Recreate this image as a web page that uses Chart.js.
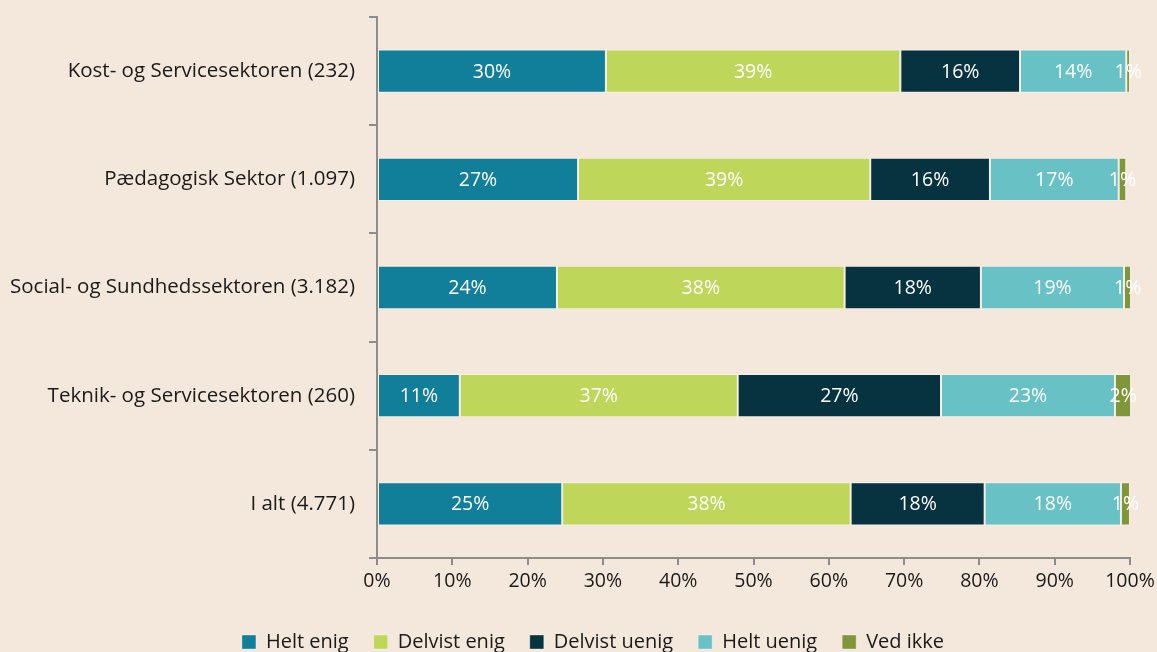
<!DOCTYPE html>
<html>
<head>
<meta charset="utf-8">
<script src="https://cdn.jsdelivr.net/npm/chart.js@4"></script>
<style>
  html, body { margin: 0; padding: 0; background: #F4E8DC; overflow: hidden; }
  #wrap { width: 1157px; height: 662px; position: relative; }
</style>
</head>
<body>
<div id="wrap"><canvas id="chart"></canvas></div>
<script>
// Categories (top to bottom)
const categories = [
    'Kost- og Servicesektoren (232)',
    'Pædagogisk Sektor (1.097)',
    'Social- og Sundhedssektoren (3.182)',
    'Teknik- og Servicesektoren (260)',
    'I alt (4.771)'
];

// Series values in percent
const heltEnig     = [30.4, 26.7, 23.9, 11.0, 24.6];
const delvistEnig  = [39.1, 38.8, 38.2, 36.9, 38.3];
const delvistUenig = [15.9, 15.9, 18.1, 27.0, 17.8];
const heltUenig    = [14.1, 17.1, 19.0, 23.1, 18.1];
const vedIkke      = [0.5, 1.0, 1.0, 2.2, 1.2];

// Tick labels for the value axis
const xTicks = ['0%', '10%', '20%', '30%', '40%', '50%', '60%', '70%', '80%', '90%', '100%'];

const axisGray = '#8C8C8C';
const fontFamily = '"Open Sans", "Noto Sans", sans-serif';

// Draw the white percentage labels inside each segment
const segmentLabels = {
    id: 'segmentLabels',
    afterDatasetsDraw(chart) {
        const c = chart.ctx;
        c.save();
        c.fillStyle = '#FFFFFF';
        c.font = '19.5px ' + fontFamily;
        c.textAlign = 'center';
        c.textBaseline = 'middle';
        chart.data.datasets.forEach((ds, i) => {
            const meta = chart.getDatasetMeta(i);
            meta.data.forEach((bar, j) => {
                const v = ds.data[j];
                const x = (bar.x + bar.base) / 2;
                c.fillText(Math.max(1, Math.round(v)) + '%', x, bar.y + 1);
            });
        });
        c.restore();
    }
};

// Nudge the legend a little to the right, as in the original
const legendShift = {
    id: 'legendShift',
    afterLayout(chart) {
        if (chart.legend) {
            chart.legend.left += 28;
            chart.legend.right += 28;
        }
    }
};

const ctx = document.getElementById('chart').getContext('2d');
new Chart(ctx, {
    type: 'bar',
    data: {
        labels: categories,
        datasets: [
            { label: 'Helt enig', data: heltEnig, backgroundColor: '#117E9A' },
            { label: 'Delvist enig', data: delvistEnig, backgroundColor: '#BED75A' },
            { label: 'Delvist uenig', data: delvistUenig, backgroundColor: '#073340' },
            { label: 'Helt uenig', data: heltUenig, backgroundColor: '#67C1C5' },
            { label: 'Ved ikke', data: vedIkke, backgroundColor: '#7F963B' }
        ].map(d => Object.assign(d, {
            borderColor: 'rgba(255,255,255,0.35)',
            borderWidth: 1,
            borderSkipped: false,
            categoryPercentage: 0.4,
            barPercentage: 1.0
        }))
    },
    options: {
        indexAxis: 'y',
        responsive: true,
        maintainAspectRatio: false,
        animation: false,
        layout: { padding: { top: 17, right: 27, left: 0, bottom: 0 } },
        scales: {
            x: {
                stacked: true,
                min: 0,
                max: 100,
                ticks: {
                    stepSize: 10,
                    color: '#1A1A1A',
                    font: { family: fontFamily, size: 19.5 },
                    padding: 5,
                    maxRotation: 0,
                    callback: (v, i) => xTicks[i]
                },
                grid: { drawOnChartArea: false, drawTicks: true, tickLength: 7, tickColor: axisGray, lineWidth: 2 },
                border: { display: true, color: axisGray, width: 2 },
                afterFit: s => { s.height = 49; s.paddingRight = 0; s.paddingLeft = 0; }
            },
            y: {
                stacked: true,
                ticks: {
                    color: '#1A1A1A',
                    font: { family: fontFamily, size: 20.5 },
                    padding: 14
                },
                grid: { drawOnChartArea: false, drawTicks: true, tickLength: 8, tickColor: axisGray, lineWidth: 2, offset: true },
                border: { display: true, color: axisGray, width: 2 },
                afterFit: s => { s.width = 377; s.paddingTop = 0; s.paddingBottom = 0; }
            }
        },
        plugins: {
            legend: {
                position: 'bottom',
                labels: {
                    boxWidth: 14,
                    boxHeight: 14,
                    padding: 25,
                    color: '#1A1A1A',
                    font: { family: fontFamily, size: 20 }
                }
            },
            tooltip: { enabled: false }
        }
    },
    plugins: [segmentLabels, legendShift]
});
</script>
</body>
</html>
